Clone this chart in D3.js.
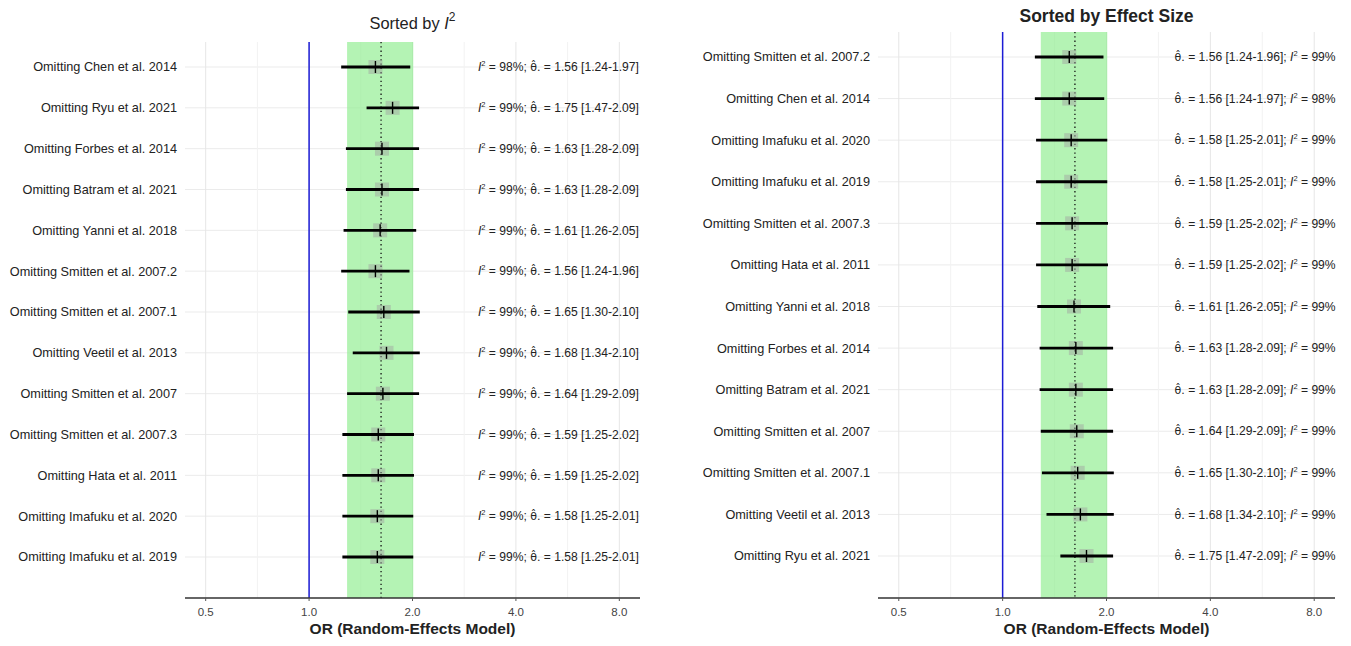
<!DOCTYPE html>
<html>
<head>
<meta charset="utf-8">
<script src="https://cdn.jsdelivr.net/npm/d3@7"></script>
<style>
  html, body { margin: 0; padding: 0; background: #fff; }
  svg { display: block; font-family: "Liberation Sans", Arial, sans-serif; }
</style>
</head>
<body>
<svg id="chart" width="1351" height="646"></svg>
<script>
// ---------------- DATA ----------------
const studies = [
  "Omitting Chen et al. 2014",
  "Omitting Ryu et al. 2021",
  "Omitting Forbes et al. 2014",
  "Omitting Batram et al. 2021",
  "Omitting Yanni et al. 2018",
  "Omitting Smitten et al. 2007.2",
  "Omitting Smitten et al. 2007.1",
  "Omitting Veetil et al. 2013",
  "Omitting Smitten et al. 2007",
  "Omitting Smitten et al. 2007.3",
  "Omitting Hata et al. 2011",
  "Omitting Imafuku et al. 2020",
  "Omitting Imafuku et al. 2019"
];
const effect  = [1.56, 1.75, 1.63, 1.63, 1.61, 1.56, 1.65, 1.68, 1.64, 1.59, 1.59, 1.58, 1.58];
const ciLower = [1.24, 1.47, 1.28, 1.28, 1.26, 1.24, 1.30, 1.34, 1.29, 1.25, 1.25, 1.25, 1.25];
const ciUpper = [1.97, 2.09, 2.09, 2.09, 2.05, 1.96, 2.10, 2.10, 2.09, 2.02, 2.02, 2.01, 2.01];
const i2      = [98, 99, 99, 99, 99, 99, 99, 99, 99, 99, 99, 99, 99];

const orderByI2 = studies.slice();
const orderByEffect = [
  "Omitting Smitten et al. 2007.2",
  "Omitting Chen et al. 2014",
  "Omitting Imafuku et al. 2020",
  "Omitting Imafuku et al. 2019",
  "Omitting Smitten et al. 2007.3",
  "Omitting Hata et al. 2011",
  "Omitting Yanni et al. 2018",
  "Omitting Forbes et al. 2014",
  "Omitting Batram et al. 2021",
  "Omitting Smitten et al. 2007",
  "Omitting Smitten et al. 2007.1",
  "Omitting Veetil et al. 2013",
  "Omitting Ryu et al. 2021"
];

const pooledEffect = 1.62;
const pooledLower = 1.29;
const pooledUpper = 2.01;

const xTicks = [0.5, 1, 2, 4, 8];
const xTickLabels = ["0.5", "1.0", "2.0", "4.0", "8.0"];
const xDomain = [Math.pow(2, -1.2), Math.pow(2, 3.2)];
const xMinor = [Math.SQRT1_2, Math.SQRT2, 2 * Math.SQRT2, 4 * Math.SQRT2];
const xAxisTitle = "OR (Random-Effects Model)";

const rows = studies.map((s, i) => ({
  study: s, est: effect[i], lo: ciLower[i], hi: ciUpper[i], i2: i2[i]
}));

// ---------------- DRAW ----------------
const svg = d3.select("#chart");

function drawPanel(cfg) {
  const g = svg.append("g");
  const x = d3.scaleLog().base(2).domain(xDomain).range([cfg.left, cfg.right]);
  const y = d3.scalePoint().domain(cfg.order).range([cfg.rowTop, cfg.rowBottom]);

  // gridlines
  g.selectAll(".hgrid").data(cfg.order).enter().append("line")
    .attr("x1", cfg.left).attr("x2", cfg.right)
    .attr("y1", d => y(d)).attr("y2", d => y(d))
    .attr("stroke", "#ebebeb").attr("stroke-width", 1);
  g.selectAll(".vminor").data(xMinor).enter().append("line")
    .attr("x1", d => x(d)).attr("x2", d => x(d))
    .attr("y1", cfg.top).attr("y2", cfg.bottom)
    .attr("stroke", "#f2f2f2").attr("stroke-width", 1);
  g.selectAll(".vmajor").data(xTicks).enter().append("line")
    .attr("x1", d => x(d)).attr("x2", d => x(d))
    .attr("y1", cfg.top).attr("y2", cfg.bottom)
    .attr("stroke", "#e6e6e6").attr("stroke-width", 1);

  // pooled CI band
  g.append("rect")
    .attr("x", x(pooledLower)).attr("y", cfg.top)
    .attr("width", x(pooledUpper) - x(pooledLower))
    .attr("height", cfg.bottom - cfg.top)
    .attr("fill", "#90EE90").attr("fill-opacity", 0.68);

  // null line
  g.append("line")
    .attr("x1", x(1)).attr("x2", x(1))
    .attr("y1", cfg.top).attr("y2", cfg.bottom)
    .attr("stroke", "#1c1cd6").attr("stroke-width", 1.5);

  // pooled estimate dotted
  g.append("line")
    .attr("x1", x(pooledEffect)).attr("x2", x(pooledEffect))
    .attr("y1", cfg.top).attr("y2", cfg.bottom)
    .attr("stroke", "#111").attr("stroke-width", 1.3)
    .attr("stroke-dasharray", "1.3,3");

  const data = cfg.order.map(s => rows.find(r => r.study === s));

  // squares
  const sq = 14;
  g.selectAll(".sq").data(data).enter().append("rect")
    .attr("x", d => x(d.est) - sq / 2).attr("y", d => y(d.study) - sq / 2)
    .attr("width", sq).attr("height", sq)
    .attr("fill", "#a0a0a0").attr("fill-opacity", 0.45);

  // whiskers
  g.selectAll(".ci").data(data).enter().append("line")
    .attr("x1", d => x(d.lo)).attr("x2", d => x(d.hi))
    .attr("y1", d => y(d.study)).attr("y2", d => y(d.study))
    .attr("stroke", "#000").attr("stroke-width", 2.8);

  // point tick
  g.selectAll(".pt").data(data).enter().append("line")
    .attr("x1", d => x(d.est)).attr("x2", d => x(d.est))
    .attr("y1", d => y(d.study) - 6).attr("y2", d => y(d.study) + 6)
    .attr("stroke", "#000").attr("stroke-width", 1.4);

  // study labels
  g.selectAll(".lab").data(cfg.order).enter().append("text")
    .attr("x", cfg.left - 8).attr("y", d => y(d))
    .attr("dy", "0.35em").attr("text-anchor", "end")
    .attr("font-size", "12.7px").attr("fill", "#222")
    .text(d => d);

  // annotations
  const fmt = d3.format(".2f");
  const ann = g.selectAll(".ann").data(data).enter().append("text")
    .attr("x", x(cfg.annAt)).attr("y", d => y(d.study))
    .attr("dy", "0.35em").attr("text-anchor", "start")
    .attr("font-size", "12.1px").attr("fill", "#222");
  ann.each(function(d) {
    const t = d3.select(this);
    const addI2 = () => {
      t.append("tspan").attr("font-style", "italic").text("I");
      t.append("tspan").attr("font-size", "7.5px").attr("dy", "-5").text("2");
      t.append("tspan").attr("dy", "5").text(" = " + d.i2 + "%");
    };
    const addTheta = () => {
      t.append("tspan").attr("font-family", "'DejaVu Sans', sans-serif")
        .attr("font-size", "11px").text("θ\u0302.");
      t.append("tspan").text(" = " + fmt(d.est) + " [" + fmt(d.lo) + "-" + fmt(d.hi) + "]");
    };
    if (cfg.i2First) { addI2(); t.append("tspan").text("; "); addTheta(); }
    else { addTheta(); t.append("tspan").text("; "); addI2(); }
  });

  // axis
  g.append("line")
    .attr("x1", cfg.left).attr("x2", cfg.right)
    .attr("y1", cfg.bottom).attr("y2", cfg.bottom)
    .attr("stroke", "#333").attr("stroke-width", 1.4);
  g.selectAll(".tk").data(xTicks).enter().append("line")
    .attr("x1", d => x(d)).attr("x2", d => x(d))
    .attr("y1", cfg.bottom).attr("y2", cfg.bottom + 3)
    .attr("stroke", "#555").attr("stroke-width", 1);
  g.selectAll(".tkl").data(xTicks).enter().append("text")
    .attr("x", d => x(d)).attr("y", cfg.bottom + 14)
    .attr("dy", "0.35em").attr("text-anchor", "middle")
    .attr("font-size", "11.5px").attr("fill", "#444")
    .text((d, i) => xTickLabels[i]);
  g.append("text")
    .attr("x", (cfg.left + cfg.right) / 2).attr("y", cfg.bottom + 31)
    .attr("dy", "0.35em").attr("text-anchor", "middle")
    .attr("font-size", "15.5px").attr("font-weight", "bold").attr("fill", "#222")
    .text(xAxisTitle);

  // title
  const title = g.append("text")
    .attr("x", (cfg.left + cfg.right) / 2).attr("y", cfg.titleY)
    .attr("dy", "0.35em").attr("text-anchor", "middle")
    .attr("fill", "#222");
  if (cfg.boldTitle) {
    title.attr("font-size", "17.5px").attr("font-weight", "bold").text(cfg.title);
  } else {
    title.attr("font-size", "16.4px");
    title.append("tspan").text(cfg.title + " ");
    title.append("tspan").attr("font-style", "italic").text("I");
    title.append("tspan").attr("font-size", "12px").attr("dy", "-8").text("2");
  }
}

drawPanel({
  left: 185, right: 640, top: 42, bottom: 598,
  rowTop: 67, rowBottom: 557,
  order: orderByI2, annAt: 3.1, i2First: true,
  title: "Sorted by", boldTitle: false, titleY: 23
});

drawPanel({
  left: 878, right: 1335, top: 32, bottom: 598,
  rowTop: 57, rowBottom: 556,
  order: orderByEffect, annAt: 3.15, i2First: false,
  title: "Sorted by Effect Size", boldTitle: true, titleY: 16
});
</script>
</body>
</html>
